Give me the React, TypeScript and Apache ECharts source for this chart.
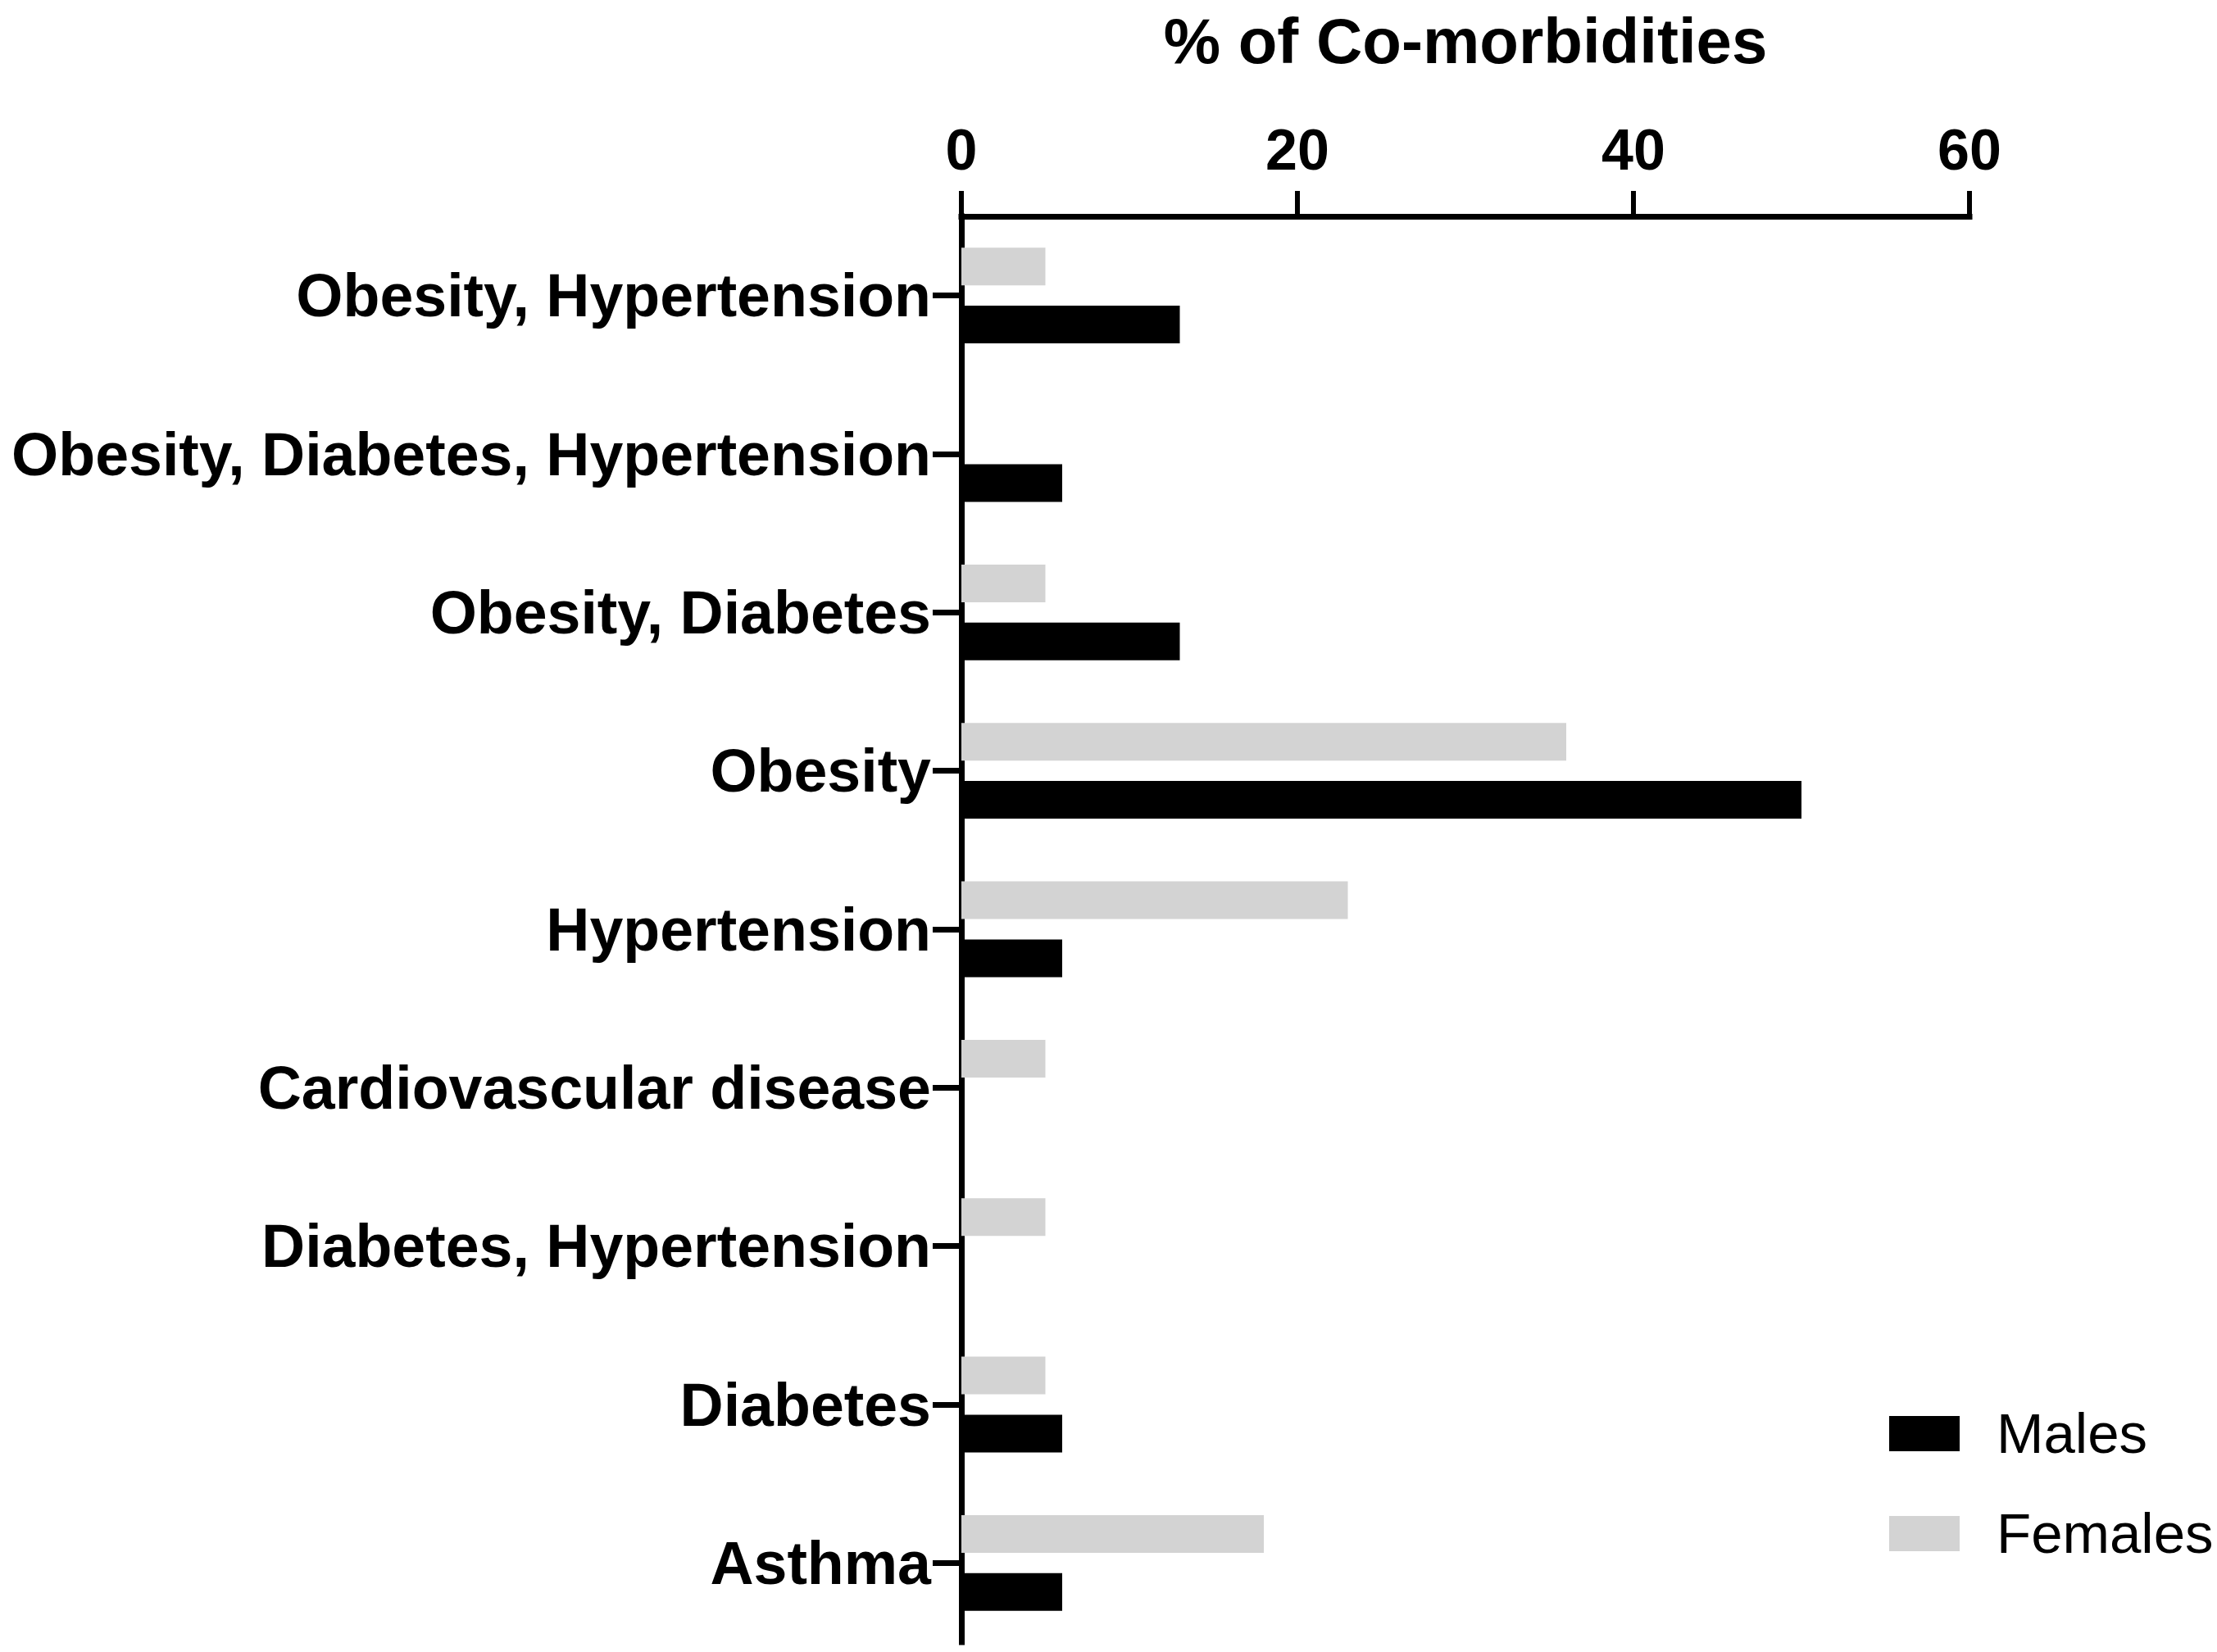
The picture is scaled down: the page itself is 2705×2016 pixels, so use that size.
import React, { useEffect, useRef } from "react";
import * as echarts from "echarts";

const categories = [
  "Obesity, Hypertension",
  "Obesity, Diabetes, Hypertension",
  "Obesity, Diabetes",
  "Obesity",
  "Hypertension",
  "Cardiovascular disease",
  "Diabetes, Hypertension",
  "Diabetes",
  "Asthma",
];
const males = [13, 6, 13, 50, 6, 0, 0, 6, 6];
const females = [5, 0, 5, 36, 23, 5, 5, 5, 18];
const xTicks = [0, 20, 40, 60];
const axisTitle = "% of Co-morbidities";

const FONT = "'Liberation Sans', Arial, Helvetica, sans-serif";

export default function App() {
  const ref = useRef<HTMLDivElement>(null);
  useEffect(() => {
    if (!ref.current) return;
    const chart = echarts.init(ref.current, undefined, { renderer: "svg" });
    chart.setOption({
      animation: false,
      backgroundColor: "#ffffff",
      grid: { left: 1173, top: 264, width: 1230, height: 1740, containLabel: false },
      legend: {
        data: ["Males", "Females"],
        orient: "vertical",
        left: 2300,
        top: 1710,
        itemWidth: 86,
        itemHeight: 43,
        itemGap: 53,
        icon: "rect",
        textStyle: { fontFamily: FONT, fontSize: 69, color: "#000", padding: [0, 0, 0, 40] },
        selectedMode: false,
      },
      xAxis: {
        type: "value",
        position: "top",
        min: xTicks[0],
        max: xTicks[xTicks.length - 1],
        interval: 20,
        name: axisTitle,
        nameLocation: "middle",
        nameGap: 175,
        nameTextStyle: { fontFamily: FONT, fontSize: 78, fontWeight: "bold", color: "#000" },
        axisLine: { show: true, lineStyle: { color: "#000", width: 7, cap: "square" } },
        axisTick: { show: true, length: 31, lineStyle: { color: "#000", width: 6 } },
        axisLabel: { fontFamily: FONT, fontSize: 70, fontWeight: "bold", color: "#000", margin: 46 },
        splitLine: { show: false },
      },
      yAxis: {
        type: "category",
        inverse: true,
        data: categories,
        axisLine: { show: true, lineStyle: { color: "#000", width: 7, cap: "square" } },
        axisTick: { show: true, alignWithLabel: true, length: 35, lineStyle: { color: "#000", width: 7 } },
        axisLabel: { fontFamily: FONT, fontSize: 73.5, fontWeight: "bold", color: "#000", margin: 37 },
      },
      series: [
        {
          name: "Females",
          type: "bar",
          data: females,
          barWidth: 46,
          barGap: "54%",
          itemStyle: { color: "#d3d3d3" },
        },
        {
          name: "Males",
          type: "bar",
          data: males,
          barWidth: 46,
          barGap: "54%",
          itemStyle: { color: "#000000" },
        },
      ],
    });
    return () => chart.dispose();
  }, []);
  return (
    <div
      ref={ref}
      style={{ position: "absolute", left: 0, top: 0, width: 2705, height: 2016 }}
    />
  );
}
